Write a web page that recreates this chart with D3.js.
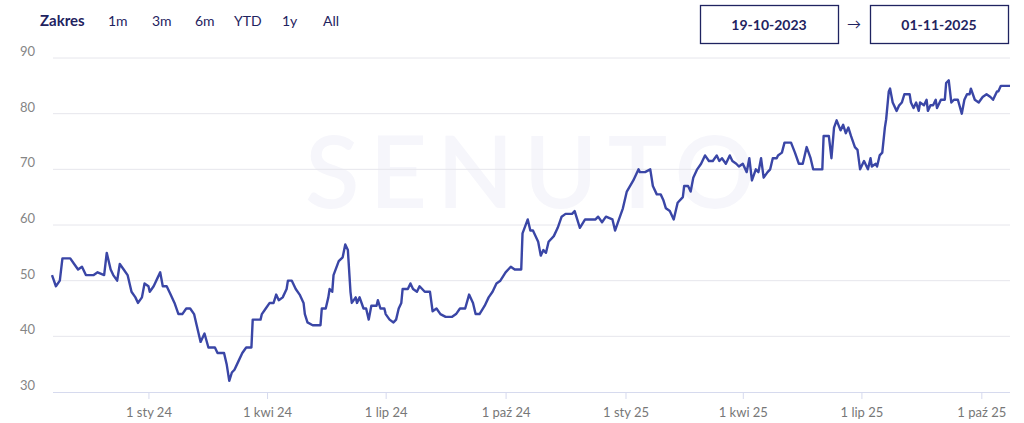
<!DOCTYPE html>
<html><head><meta charset="utf-8">
<script src="https://cdn.jsdelivr.net/npm/d3@7"></script>
<style>body{margin:0;background:#fff;font-family:Lato,"Open Sans",sans-serif}</style>
</head><body>
<svg id="chart" width="1024" height="423"></svg>
<script>
// data: day offset from start date, and value
var startDate = new Date(2023, 9, 19)
var days = [0,3,6,8,14,17,20,23,26,29,32,35,40,42,45,47,50,52,55,58,61,64,66,69,71,74,75,78,81,83,85,88,91,94,97,100,103,106,109,111,114,117,120,125,127,132,134,136,138,140,143,146,149,153,154,157,160,161,164,167,170,172,174,177,180,181,184,187,190,193,194,196,200,206,207,210,212,213,215,216,220,223,225,227,229,230,233,234,236,239,241,243,245,249,250,252,255,256,259,262,264,266,268,269,273,275,277,280,282,286,290,292,295,298,302,307,310,313,317,320,323,325,328,332,335,338,341,344,348,352,355,360,361,365,367,369,373,375,377,379,381,385,388,391,394,399,401,405,409,413,417,419,422,425,430,432,435,438,441,446,450,451,455,459,461,464,467,469,471,474,477,480,484,485,488,490,492,495,498,501,504,507,510,512,514,517,520,522,525,527,530,533,535,537,540,542,544,546,549,551,553,556,557,560,562,567,570,573,576,577,579,582,584,591,592,596,598,600,602,605,607,609,611,613,616,618,620,623,624,626,628,629,632,633,635,637,639,640,642,643,645,648,650,652,654,658,659,661,663,665,666,669,671,672,674,676,678,679,682,685,686,688,690,692,695,698,700,702,704,705,708,711,714,717,720,722,725,726,728,735]
var values = [51,49,50,54,54,53,52,52.5,51,51,51,51.5,51,55,52,51,50,53,52,51,48,47,46,47,49.5,49,48,49,50.5,51.5,49,49,47.5,46,44,44,45,45,44,42,39,40.5,38,38,37,37,35,32,33.5,34,35.5,37,38,38,43,43,43,44,45,46,46,47.5,46.5,47,48.5,50,50,48.5,47.5,46,44,42.5,42,42,45,45,47,48.5,48,51,53.5,54.2,56.5,55.5,48,46,47,46,47,45,45,43,45.5,45.5,46.5,45,45,44,43,42.5,43,45,46,48.5,48.5,49.5,48.5,48,49,48,48,44.5,45,44,43.5,43.5,44,45,45,47.5,46,44,44,45.5,47,48,49.5,50,51.5,52.5,52,52,58.5,61,59,59,57,54.5,55.5,55,57,58,59.5,61.5,62,62,62.5,59.5,61,61,61,61.5,60.5,61.5,61,59,61,63,66,68,70,69.5,69.5,70,67,65.5,65.5,64.5,63,62.5,61,64,65,67,67,66,68.5,70,71,72.5,71.5,71.5,72.5,71.5,72,71,72.5,71.5,71,70.5,71,69.5,72,68,70,69.5,72,68.5,69.5,70,72,72,72.5,73,74.8,74.8,73,71,71,72,74,72,70,70,76,76,72,77.5,78.8,77,78,76.5,77.5,76,74,73.5,70,71.5,71,70,72,70.5,71,70.5,72.5,73,77.5,79,84,84.5,82,80.5,81.5,82,83.5,83.5,82,81,82,80.5,82,81.5,82.5,80.5,81.5,81.5,82.5,81,82.5,82.5,85.5,86,82,82.5,82.5,80,82.5,83.5,83.5,84.5,82.5,82,83,83.5,83,82.5,84,84,85,85]
var yTicks = [30,40,50,60,70,80,90]
var xTickDates = ["2024-01-01","2024-04-01","2024-07-01","2024-10-01","2025-01-01","2025-04-01","2025-07-01","2025-10-01"]
var xTickLabels = ["1 sty 24","1 kwi 24","1 lip 24","1 paź 24","1 sty 25","1 kwi 25","1 lip 25","1 paź 25"]
var rangeButtons = ["1m","3m","6m","YTD","1y","All"]
var dateFrom = "19-10-2023", dateTo = "01-11-2025"

var navy = "#1f2360"
var svg = d3.select("#chart")
var data = days.map(function(d,i){ return {date: d3.timeDay.offset(startDate, d), v: values[i]} })

var x = d3.scaleTime().domain(d3.extent(data, function(d){return d.date})).range([52, 1010])
var y = d3.scaleLinear().domain([30, 90]).range([392, 58])

// watermark
svg.append("text").attr("x", 535).attr("y", 208).attr("text-anchor", "middle")
	.style("font-size", "100px").style("font-weight", "600").style("letter-spacing", "10px")
	.style("fill", "#f6f6fb").text("SENUTO")

// grid
svg.selectAll(".grid").data(yTicks.slice(1)).enter().append("line")
	.attr("x1", 53).attr("x2", 1010)
	.attr("y1", function(d){return y(d)}).attr("y2", function(d){return y(d)})
	.style("stroke", "#e6e6ec").style("stroke-width", 1)

svg.selectAll(".ylab").data(yTicks).enter().append("text")
	.attr("x", 20).attr("y", function(d){return y(d) - 2})
	.style("font-size", "13px").style("fill", "#858585").text(function(d){return d})

// x axis
var xAxis = d3.axisBottom(x)
	.tickValues(xTickDates.map(function(s){return d3.timeParse("%Y-%m-%d")(s)}))
	.tickFormat(function(d,i){return xTickLabels[i]})
	.tickSize(7).tickSizeOuter(0)
var gx = svg.append("g").attr("transform", "translate(0,392)").call(xAxis)
gx.select(".domain").attr("d", "M53,0.5H1010").style("stroke", "#d6daee")
gx.selectAll(".tick line").style("stroke", "#d6daee")
gx.selectAll(".tick text").attr("dy", "1.15em").style("font-size", "13px").style("fill", "#777").style("font-family", "Lato,sans-serif")

// line
var line = d3.line().x(function(d){return x(d.date)}).y(function(d){return y(d.v)})
svg.append("path").datum(data).attr("d", line)
	.style("fill", "none").style("stroke", "#3a46a6").style("stroke-width", 2.4).style("stroke-linejoin", "round")

// header controls
svg.append("text").attr("x", 40).attr("y", 26).style("font-size", "15px").style("font-weight", "700")
	.style("fill", navy).text("Zakres")
var btnX = [108, 152, 195, 234, 282, 323]
svg.selectAll(".btn").data(rangeButtons).enter().append("text")
	.attr("x", function(d,i){return btnX[i]}).attr("y", 26)
	.style("font-size", "14px").style("fill", navy).text(function(d){return d})

var boxes = [{x: 700, t: dateFrom}, {x: 870, t: dateTo}]
svg.selectAll(".box").data(boxes).enter().append("rect")
	.attr("x", function(d){return d.x + 0.5}).attr("y", 5.5).attr("width", 138).attr("height", 38)
	.style("fill", "#fff").style("stroke", navy).style("stroke-width", 1.3)
svg.selectAll(".boxt").data(boxes).enter().append("text")
	.attr("x", function(d){return d.x + 69}).attr("y", 30).attr("text-anchor", "middle")
	.style("font-size", "14px").style("font-weight", "700").style("fill", navy).text(function(d){return d.t})
svg.append("text").attr("x", 854).attr("y", 29).attr("text-anchor", "middle")
	.style("font-size", "14px").style("fill", navy).text("→")
</script>
</body></html>
